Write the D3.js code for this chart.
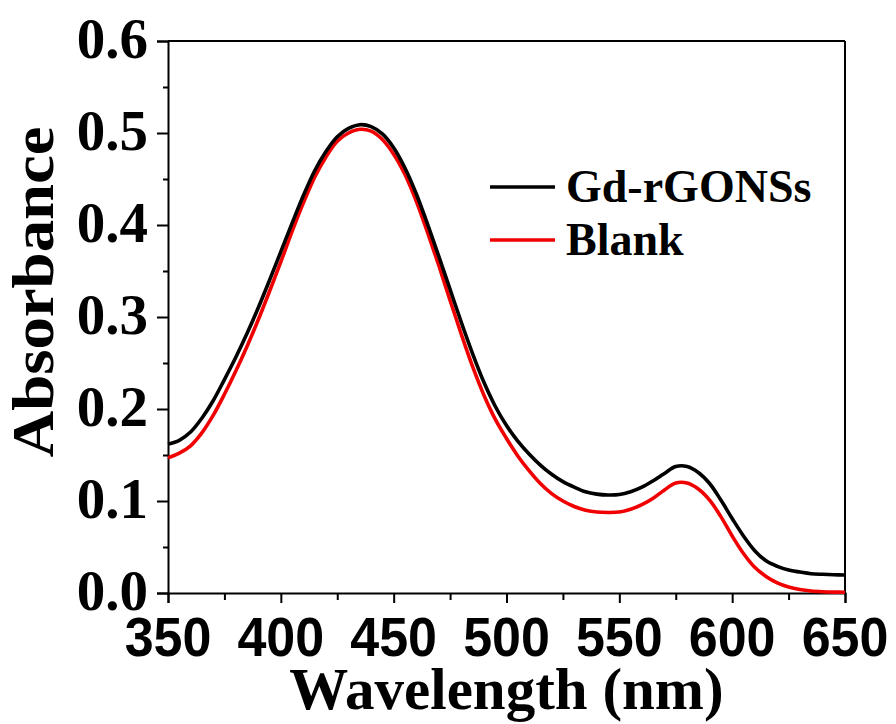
<!DOCTYPE html>
<html>
<head>
<meta charset="utf-8">
<script src="https://cdn.jsdelivr.net/npm/d3@7/dist/d3.min.js"></script>
<style>
  html, body { margin: 0; padding: 0; background: #fff; }
  svg { display: block; }
</style>
</head>
<body>
<svg id="chart" width="896" height="724"></svg>
<script>
// UV-Vis absorbance spectra
const wavelengths = [350,355,360,365,370,375,380,385,390,395,400,405,410,415,420,425,430,435,440,445,450,455,460,465,470,475,480,485,490,495,500,505,510,515,520,525,530,535,540,545,550,555,560,565,570,575,580,585,590,595,600,605,610,615,620,625,630,635,640,645,650];

const gdRGONSs = [0.162,0.166,0.175,0.190,0.209,0.232,0.256,0.282,0.310,0.340,0.371,0.402,0.432,0.459,0.480,0.496,0.505,0.509,0.507,0.499,0.484,0.462,0.434,0.401,0.366,0.330,0.294,0.260,0.229,0.203,0.182,0.165,0.151,0.139,0.129,0.121,0.115,0.110,0.1075,0.1065,0.107,0.110,0.115,0.122,0.130,0.1375,0.1375,0.131,0.119,0.101,0.081,0.062,0.046,0.035,0.029,0.025,0.0228,0.021,0.0203,0.0198,0.0195];

const blank = [0.147,0.152,0.160,0.174,0.193,0.216,0.241,0.268,0.297,0.328,0.360,0.393,0.424,0.452,0.474,0.491,0.500,0.504,0.502,0.493,0.477,0.455,0.426,0.392,0.356,0.318,0.281,0.246,0.215,0.189,0.168,0.149,0.133,0.119,0.108,0.100,0.094,0.090,0.088,0.0875,0.088,0.091,0.096,0.103,0.112,0.1195,0.1195,0.113,0.101,0.083,0.062,0.043,0.028,0.018,0.011,0.0065,0.0038,0.0022,0.0014,0.001,0.0008];

const seriesNames = ["Gd-rGONSs", "Blank"];
const seriesColors = ["#000000", "#f00000"];
const xTicks = [350,400,450,500,550,600,650];
const xMinorTicks = [375,425,475,525,575,625];
const yTicks = [0.0,0.1,0.2,0.3,0.4,0.5,0.6];
const yMinorTicks = [0.05,0.15,0.25,0.35,0.45,0.55];
const xTitle = "Wavelength (nm)";
const yTitle = "Absorbance";

const svg = d3.select("#chart");
const W = 896, H = 724;
const margin = {left: 168, right: W - 845, top: 41, bottom: H - 593};

const x = d3.scaleLinear().domain([350, 650]).range([margin.left, W - margin.right]);
const y = d3.scaleLinear().domain([0, 0.6]).range([H - margin.bottom, margin.top]);

const serif = "'Liberation Serif','Times New Roman',serif";
const sans = "'Liberation Sans',Arial,sans-serif";

// frame: top and right borders
svg.append("line").attr("x1", x(350)).attr("x2", x(650)).attr("y1", y(0.6)).attr("y2", y(0.6))
  .attr("stroke", "#000").attr("stroke-width", 2);
svg.append("line").attr("x1", x(650)).attr("x2", x(650)).attr("y1", y(0.6)).attr("y2", y(0))
  .attr("stroke", "#000").attr("stroke-width", 2);

// bottom axis
svg.append("g").attr("transform", `translate(0,${y(0)})`)
  .call(d3.axisBottom(x).tickValues(xTicks).tickSize(10).tickFormat(""));
svg.append("g").attr("transform", `translate(0,${y(0)})`)
  .call(d3.axisBottom(x).tickValues(xMinorTicks).tickSize(7).tickFormat(""))
  .select(".domain").remove();

// left axis
svg.append("g").attr("transform", `translate(${x(350)},0)`)
  .call(d3.axisLeft(y).tickValues(yTicks).tickSize(11).tickFormat(""));
svg.append("g").attr("transform", `translate(${x(350)},0)`)
  .call(d3.axisLeft(y).tickValues(yMinorTicks).tickSize(5).tickFormat(""))
  .select(".domain").remove();

svg.selectAll(".domain").attr("stroke", "#000").attr("stroke-width", 2);
svg.selectAll(".tick line").attr("stroke", "#000").attr("stroke-width", 2);

// tick labels
svg.append("g").selectAll("text").data(xTicks).join("text")
  .attr("transform", d => `translate(${x(d)},656) scale(1,1.05)`)
  .attr("text-anchor", "middle")
  .attr("font-family", sans).attr("font-weight", "bold").attr("font-size", 52)
  .attr("fill", "#000")
  .text(d => d);

svg.append("g").selectAll("text").data(yTicks).join("text")
  .attr("transform", d => `translate(148,${y(d) + 17})`)
  .attr("text-anchor", "end")
  .attr("font-family", serif).attr("font-weight", "bold").attr("font-size", 57)
  .attr("fill", "#000")
  .text(d => d.toFixed(1));

// axis titles
svg.append("text")
  .attr("transform", `translate(${(x(350) + x(650)) / 2},709)`)
  .attr("text-anchor", "middle")
  .attr("font-family", serif).attr("font-weight", "bold").attr("font-size", 59)
  .attr("fill", "#000")
  .text(xTitle);

svg.append("text")
  .attr("transform", `translate(53,292) rotate(-90) scale(1.08,1)`)
  .attr("text-anchor", "middle")
  .attr("font-family", serif).attr("font-weight", "bold").attr("font-size", 60)
  .attr("fill", "#000")
  .text(yTitle);

// spectra
const line = d3.line()
  .x(d => x(d[0]))
  .y(d => y(d[1]))
  .curve(d3.curveCatmullRom.alpha(0.5));

const series = [gdRGONSs, blank];
// Blank first, Gd-rGONSs drawn over it
[1, 0].forEach(i => {
  svg.append("path")
    .datum(wavelengths.map((w, k) => [w, series[i][k]]))
    .attr("fill", "none")
    .attr("stroke", seriesColors[i])
    .attr("stroke-width", 3.6)
    .attr("stroke-linejoin", "round")
    .attr("d", line);
});

// legend
const legendLineY = [187, 240];
const legendTextY = [202, 255];
seriesNames.forEach((name, i) => {
  svg.append("line")
    .attr("x1", 490).attr("x2", 555)
    .attr("y1", legendLineY[i]).attr("y2", legendLineY[i])
    .attr("stroke", seriesColors[i]).attr("stroke-width", 3.6);
  svg.append("text")
    .attr("x", 566).attr("y", legendTextY[i])
    .attr("font-family", serif).attr("font-weight", "bold").attr("font-size", 46)
    .attr("fill", "#000")
    .text(name);
});
</script>
</body>
</html>
